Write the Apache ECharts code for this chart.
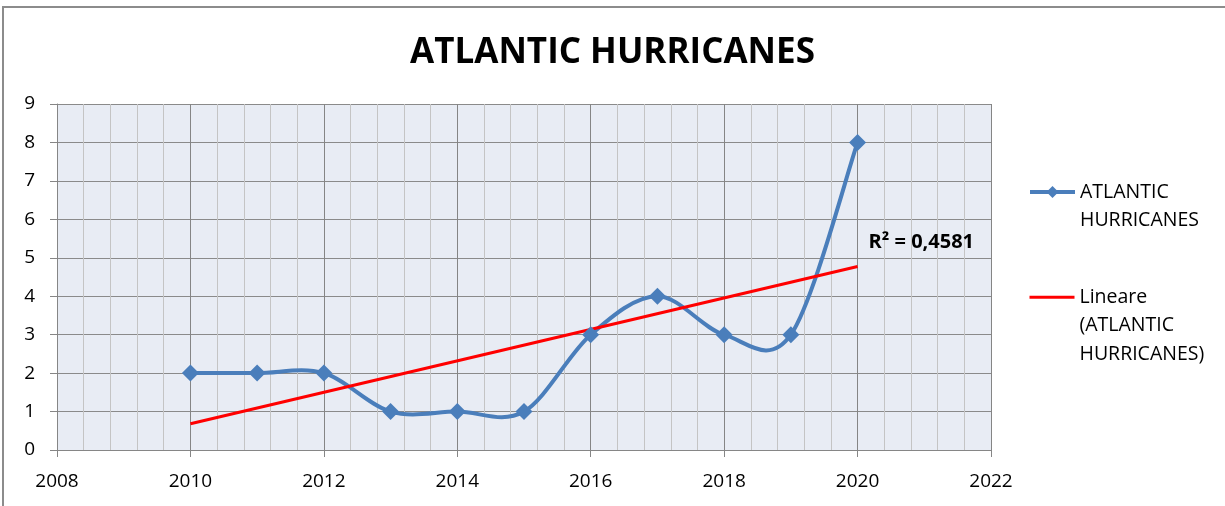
<!DOCTYPE html>
<html>
<head>
<meta charset="utf-8">
<script src="https://cdn.jsdelivr.net/npm/echarts@6/dist/echarts.min.js"></script>
<style>
  html, body { margin: 0; padding: 0; background: #ffffff; }
  #chart { width: 1225px; height: 506px; }
</style>
</head>
<body>
<div id="chart"></div>
<script>
// Yearly counts of Atlantic hurricanes
const years = [2010, 2011, 2012, 2013, 2014, 2015, 2016, 2017, 2018, 2019, 2020];
const hurricanes = [2, 2, 2, 1, 1, 1, 3, 4, 3, 3, 8];

// Axis ranges and steps
const xRange = [2008, 2022];
const xStep = 2;
const yRange = [0, 9];
const yStep = 1;

const seriesName = 'ATLANTIC HURRICANES';
const trendName = 'Lineare (ATLANTIC HURRICANES)';
const blue = '#4a7ebb';
const red = '#ff0000';

// Least-squares linear trend of the counts, and its R²
function linearFit(xs, ys) {
  const n = xs.length;
  const mx = xs.reduce((a, b) => a + b, 0) / n;
  const my = ys.reduce((a, b) => a + b, 0) / n;
  let sxy = 0, sxx = 0, syy = 0;
  for (let i = 0; i < n; i++) {
    sxy += (xs[i] - mx) * (ys[i] - my);
    sxx += (xs[i] - mx) * (xs[i] - mx);
    syy += (ys[i] - my) * (ys[i] - my);
  }
  const slope = sxy / sxx;
  return { slope, intercept: my - slope * mx, r2: (sxy * sxy) / (sxx * syy) };
}
const fit = linearFit(years, hurricanes);
const trendPoints = [years[0], years[years.length - 1]].map(x => [x, fit.intercept + fit.slope * x]);
const r2Text = 'R² = ' + fit.r2.toFixed(4).replace('.', ',');

const lineData = years.map((y, i) => [y, hurricanes[i]]);

// Smoothed curve through the points: one cubic Bézier per segment,
// tangents taken from the neighbouring points (Catmull-Rom style).
function renderSmoothSegment(params, api) {
  const i = params.dataIndex;
  const n = lineData.length;
  if (i >= n - 1) return null;
  const p = lineData.map(d => api.coord(d));
  const p0 = p[Math.max(i - 1, 0)];
  const p1 = p[i];
  const p2 = p[i + 1];
  const p3 = p[Math.min(i + 2, n - 1)];
  return {
    type: 'bezierCurve',
    shape: {
      x1: p1[0], y1: p1[1],
      cpx1: p1[0] + (p2[0] - p0[0]) / 6, cpy1: p1[1] + (p2[1] - p0[1]) / 6,
      cpx2: p2[0] - (p3[0] - p1[0]) / 6, cpy2: p2[1] - (p3[1] - p1[1]) / 6,
      x2: p2[0], y2: p2[1]
    },
    style: { fill: null, stroke: blue, lineWidth: 4, lineCap: 'round', lineJoin: 'round' },
    silent: true
  };
}

const chart = echarts.init(document.getElementById('chart'), null, { renderer: 'canvas' });

const axisGray = '#868686';
const labelFont = { fontFamily: 'Open Sans', fontSize: 19, color: '#000000', formatter: v => String(v) };

chart.setOption({
  animation: false,
  backgroundColor: '#ffffff',
  title: {
    text: 'ATLANTIC HURRICANES',
    left: 'center',
    top: 31,
    textStyle: { fontFamily: 'Open Sans', fontWeight: 'bold', fontSize: 35, color: '#000000' }
  },
  graphic: [{
    type: 'rect',
    shape: { x: 3, y: 7, width: 1300, height: 600 },
    style: { fill: 'none', stroke: '#8c8c8c', lineWidth: 2 },
    silent: true,
    z: 100
  }],
  legend: [{
    data: [seriesName],
    orient: 'vertical',
    left: 1028,
    top: 150,
    padding: 0,
    itemWidth: 45,
    itemHeight: 15,
    selectedMode: false,
    lineStyle: { color: blue, width: 4, opacity: 1 },
    formatter: () => '\nATLANTIC\nHURRICANES',
    textStyle: { fontFamily: 'Open Sans', fontSize: 19.5, lineHeight: 28, color: '#000000' }
  }, {
    data: [trendName],
    orient: 'vertical',
    left: 1028,
    top: 226,
    padding: 0,
    itemWidth: 45,
    itemHeight: 15,
    selectedMode: false,
    itemStyle: { opacity: 0 },
    lineStyle: { color: red, width: 3, opacity: 1 },
    formatter: () => '\n\nLineare\n(ATLANTIC\nHURRICANES)',
    textStyle: { fontFamily: 'Open Sans', fontSize: 19.5, lineHeight: 28.5, color: '#000000' }
  }],
  grid: {
    left: 57,
    right: 234,
    top: 104,
    bottom: 56,
    show: true,
    backgroundColor: '#e8ecf4',
    borderWidth: 0
  },
  xAxis: {
    type: 'value',
    min: xRange[0],
    max: xRange[1],
    interval: xStep,
    axisLine: { show: true, onZero: false, lineStyle: { color: axisGray, width: 1 } },
    axisTick: { show: true, length: 7, lineStyle: { color: axisGray } },
    axisLabel: Object.assign({ margin: 22 }, labelFont),
    splitLine: { show: true, lineStyle: { color: '#858585', width: 1 } },
    minorTick: { show: false, splitNumber: 5 },
    minorSplitLine: { show: true, lineStyle: { color: '#c4c4c4', width: 1 } }
  },
  yAxis: {
    type: 'value',
    min: yRange[0],
    max: yRange[1],
    interval: yStep,
    axisLine: { show: true, lineStyle: { color: axisGray, width: 1 } },
    axisTick: { show: true, length: 7, lineStyle: { color: axisGray } },
    axisLabel: Object.assign({ margin: 22 }, labelFont),
    splitLine: { show: true, lineStyle: { color: '#8a8a8a', width: 1 } }
  },
  series: [{
    // curve through the yearly counts
    type: 'custom',
    data: lineData,
    encode: { x: 0, y: 1 },
    renderItem: renderSmoothSegment,
    silent: true,
    z: 2
  }, {
    // diamond markers at each year (line itself drawn by the curve above)
    name: seriesName,
    type: 'line',
    data: lineData,
    symbol: 'diamond',
    symbolSize: 17,
    showAllSymbol: true,
    lineStyle: { color: blue, width: 4, opacity: 0 },
    itemStyle: { color: blue },
    z: 5
  }, {
    name: trendName,
    type: 'line',
    data: trendPoints,
    symbol: 'none',
    lineStyle: { color: red, width: 3 },
    itemStyle: { color: red },
    endLabel: {
      show: true,
      formatter: () => r2Text,
      offset: [3, -24],
      fontFamily: 'Open Sans',
      fontWeight: 'bold',
      fontSize: 20,
      color: '#000000'
    },
    z: 4
  }]
});
</script>
</body>
</html>
